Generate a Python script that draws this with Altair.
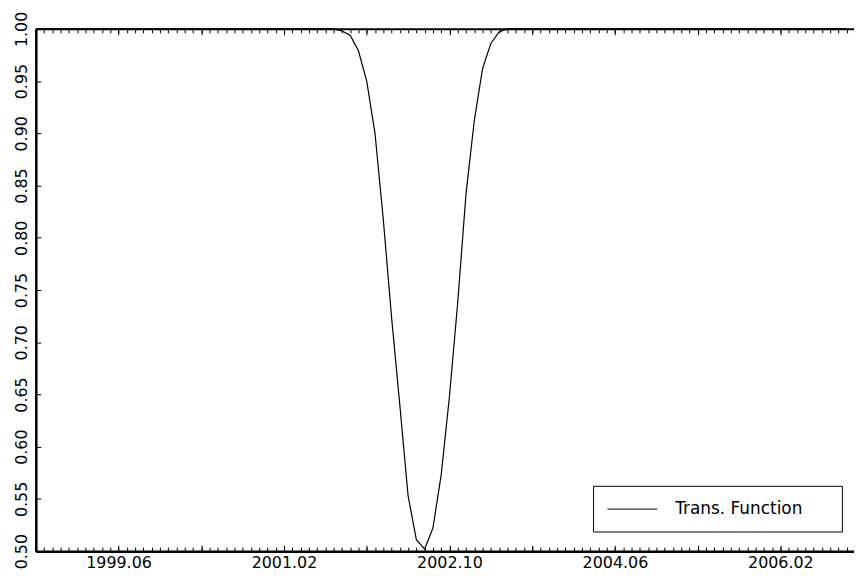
import json
import altair as alt
import pandas as pd

# ---- data (month index 0 == 1999.06) ----
month_index = list(range(-10, 89))
trans_values = (
    [1.0] * 37
    + [0.998, 0.994, 0.979, 0.950, 0.900, 0.818, 0.724, 0.640, 0.553, 0.511,
       0.502, 0.522, 0.573, 0.648, 0.738, 0.842, 0.912, 0.962, 0.986, 0.997]
    + [1.0] * 42
)
series_name = "Trans. Function"

x_label_values = [0, 20, 40, 60, 80]
x_label_text = ["1999.06", "2001.02", "2002.10", "2004.06", "2006.02"]
x_major_ticks = list(range(-10, 89, 10))
x_minor_ticks = list(range(-10, 89))
y_ticks = [0.50, 0.55, 0.60, 0.65, 0.70, 0.75, 0.80, 0.85, 0.90, 0.95, 1.00]


def month_label(m):
    total = 1999 * 12 + 5 + m
    return f"{total // 12}.{total % 12 + 1:02d}"


df = pd.DataFrame({
    "t": month_index,
    "date": [month_label(m) for m in month_index],
    "value": trans_values,
    "series": series_name,
})

FONT = "DejaVu Sans"
xs = alt.Scale(domain=[-10, 88.9], nice=False, zero=False)
ys = alt.Scale(domain=[0.5, 1.0], nice=False, zero=False)

label_expr = f"{json.dumps(x_label_text)}[indexof({json.dumps(x_label_values)}, datum.value)]"

common = dict(title=None, grid=False)

main = alt.Chart(df).mark_line(color="black", strokeWidth=1.2).encode(
    x=alt.X("t:Q", scale=xs, axis=alt.Axis(
        orient="bottom", values=x_label_values, labelExpr=label_expr,
        ticks=False, domain=True, domainColor="black", domainWidth=2.5,
        labelFont=FONT, labelFontSize=16, labelColor="black", labelPadding=3,
        labelOverlap=False, labelFlush=False, **common)),
    y=alt.Y("value:Q", scale=ys, axis=alt.Axis(
        orient="left", values=y_ticks, format=".2f", labelAngle=270,
        labelAlign="center", labelBaseline="alphabetic", labelPadding=9,
        ticks=False, domain=True, domainColor="black", domainWidth=2.5,
        labelFont=FONT, labelFontSize=16, labelColor="black",
        labelOverlap=False, labelFlush=False, **common)),
)


def axis_layer(xaxis, yaxis=None):
    return alt.Chart(df).mark_line(strokeOpacity=0).encode(
        x=alt.X("t:Q", scale=xs, axis=xaxis),
        y=alt.Y("value:Q", scale=ys, axis=yaxis),
    )


def tick_axis(orient, values, size):
    return alt.Axis(orient=orient, values=values, offset=-size, tickSize=size,
                    tickColor="black", tickWidth=1, labels=False, domain=False,
                    **common)


layers = [
    main,
    axis_layer(tick_axis("bottom", x_major_ticks, 6), tick_axis("left", y_ticks, 5)),
    axis_layer(tick_axis("bottom", x_minor_ticks, 4)),
    axis_layer(alt.Axis(orient="top", values=x_major_ticks, ticks=False, labels=False,
                        domain=True, domainColor="black", domainWidth=2, **common)),
    axis_layer(tick_axis("top", x_major_ticks, 6)),
    axis_layer(tick_axis("top", x_minor_ticks, 4)),
]

# ---- legend box ----
leg_df = pd.DataFrame({"series": [series_name]})
box = alt.Chart(leg_df).mark_rect(fill="white", stroke="black", strokeWidth=1).encode(
    x=alt.value(561.7), x2=alt.value(812.3), y=alt.value(460.7), y2=alt.value(506.7))
sample = alt.Chart(leg_df).mark_rule(color="black", strokeWidth=1).encode(
    x=alt.value(575.7), x2=alt.value(625.7), y=alt.value(483.7))
lab = alt.Chart(leg_df).mark_text(align="left", baseline="middle", font=FONT,
                                  fontSize=17, color="black").encode(
    x=alt.value(644), y=alt.value(483.7), text="series:N")

chart = alt.layer(*layers, box, sample, lab).resolve_axis(
    x="independent", y="independent"
).properties(
    width=824, height=526,
    padding={"left": 28, "top": 19, "right": 0, "bottom": 20},
    autosize=alt.AutoSizeParams(type="none"),
).configure_view(stroke=None).configure(font=FONT)

chart.save("out.html", embed_options={"renderer": "svg", "actions": False})
